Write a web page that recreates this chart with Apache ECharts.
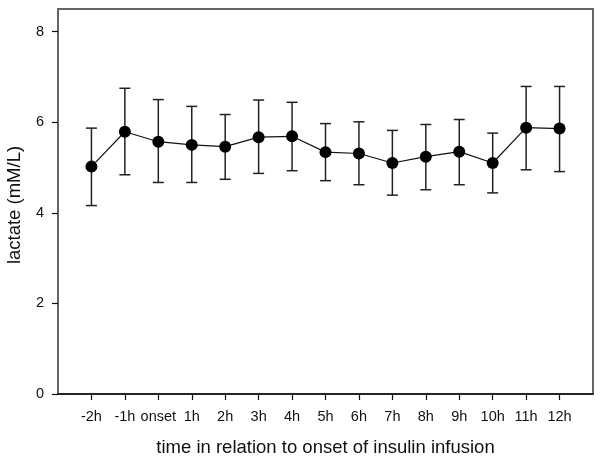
<!DOCTYPE html>
<html>
<head>
<meta charset="utf-8">
<script src="https://cdn.jsdelivr.net/npm/echarts@6/dist/echarts.min.js"></script>
<style>html,body{margin:0;padding:0;background:#fff}#c{width:600px;height:461px}</style>
</head>
<body>
<div id="c"></div>
<script>
var categories = ['-2h','-1h','onset','1h','2h','3h','4h','5h','6h','7h','8h','9h','10h','11h','12h'];
var means = [5.02,5.79,5.57,5.50,5.46,5.67,5.69,5.34,5.31,5.10,5.24,5.35,5.10,5.88,5.86];
var upper = [5.87,6.75,6.50,6.35,6.17,6.49,6.44,5.97,6.01,5.82,5.95,6.06,5.76,6.79,6.79];
var lower = [4.16,4.84,4.67,4.67,4.74,4.87,4.93,4.71,4.62,4.39,4.51,4.62,4.44,4.95,4.91];
var yTicks = [0,2,4,6,8];

var xPos = categories.map(function(c,i){return i+1;});
var lineData = means.map(function(v,i){return [xPos[i], v];});
var errData = means.map(function(v,i){return [xPos[i], lower[i], upper[i]];});

var chart = echarts.init(document.getElementById('c'), null, {renderer:'canvas'});
var font = 'Liberation Sans, Arial, sans-serif';
chart.setOption({
  animation:false,
  grid:{left:58,right:7,top:9,bottom:67,containLabel:false,outerBoundsMode:'none',show:true,borderColor:'#666',borderWidth:2,backgroundColor:'transparent'},
  xAxis:{
    type:'value',min:0,max:xPos.length+1,
    name:'time in relation to onset of insulin infusion',
    nameLocation:'middle',nameGap:44,
    nameTextStyle:{fontFamily:font,fontSize:18.5,color:'#111'},
    axisLine:{show:true,lineStyle:{color:'#111',width:1.5}},
    axisTick:{show:true,customValues:xPos,length:6,lineStyle:{color:'#111',width:1.2}},
    axisLabel:{customValues:xPos,margin:15,fontFamily:font,fontSize:14.5,color:'#111',
      formatter:function(v){var i=Math.round(v)-1;return categories[i]||'';}},
    splitLine:{show:false}
  },
  yAxis:{
    type:'value',min:0,max:8.5,
    name:'lactate (mM/L)',nameLocation:'middle',nameGap:34,
    nameTextStyle:{fontFamily:font,fontSize:18.5,color:'#111',padding:[0,7,0,0]},
    axisLine:{show:true,lineStyle:{color:'#666',width:2}},
    axisTick:{show:true,customValues:yTicks,length:6,lineStyle:{color:'#111',width:1.2}},
    axisLabel:{customValues:yTicks,margin:14,fontFamily:font,fontSize:14.5,color:'#111'},
    splitLine:{show:false}
  },
  series:[
    {
      type:'custom',
      data:errData,
      renderItem:function(params,api){
        var x=api.value(0);
        var lo=api.coord([x,api.value(1)]);
        var hi=api.coord([x,api.value(2)]);
        var hw=5.5;
        var st={stroke:'#222',lineWidth:1.5};
        return {type:'group',children:[
          {type:'line',shape:{x1:lo[0],y1:lo[1],x2:hi[0],y2:hi[1]},style:st},
          {type:'line',shape:{x1:lo[0]-hw,y1:lo[1],x2:lo[0]+hw,y2:lo[1]},style:st},
          {type:'line',shape:{x1:hi[0]-hw,y1:hi[1],x2:hi[0]+hw,y2:hi[1]},style:st}
        ]};
      },
      z:1
    },
    {
      type:'line',data:lineData,symbol:'circle',symbolSize:12,
      lineStyle:{color:'#111',width:1.2},
      itemStyle:{color:'#000'},
      z:3
    }
  ]
});
</script>
</body>
</html>
